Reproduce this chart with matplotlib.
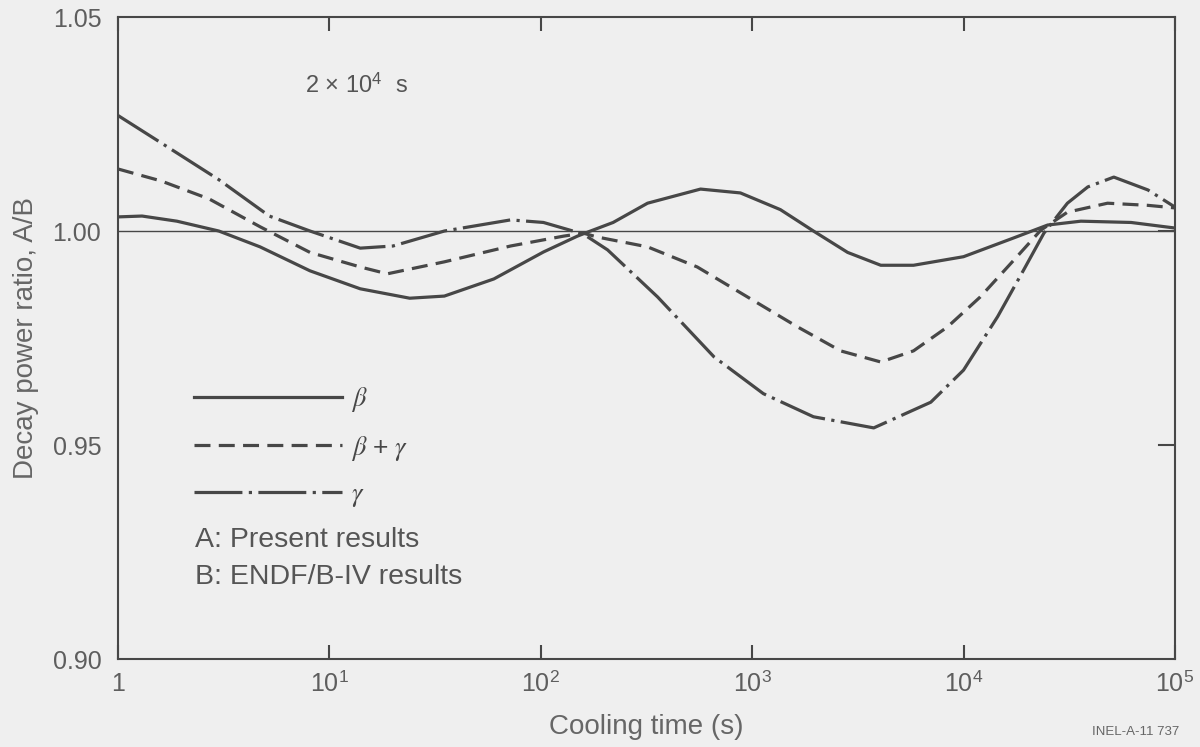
import numpy as np
import matplotlib
matplotlib.use("Agg")
import matplotlib.pyplot as plt

plt.rcParams['font.family'] = ['Liberation Sans', 'DejaVu Sans']
plt.rcParams['mathtext.fontset'] = 'custom'
plt.rcParams['mathtext.rm'] = 'Liberation Sans'
plt.rcParams['mathtext.it'] = 'STIXGeneral:italic'

# curves (cooling time in s, ratio A/B)
beta_t = [1, 1.3, 1.9, 3.0, 4.7, 8.1, 14, 24, 35, 60, 103, 149, 172, 220, 320,
          570, 880, 1360, 1950, 2830, 4060, 5800, 10000, 17300, 25000, 35900,
          62000, 100000]
beta = [1.0033, 1.0035, 1.0023, 1.000, 0.9963, 0.9907, 0.9865, 0.9843, 0.9848,
        0.9888, 0.9951, 0.9988, 1.000, 1.002, 1.0065, 1.0098, 1.0089, 1.005,
        1.000, 0.995, 0.992, 0.992, 0.994, 0.9984, 1.0014, 1.0023, 1.002, 1.0007]

bg_t = [1, 1.6, 2.7, 4.7, 8.1, 14, 18.8, 35, 72, 128, 159, 185, 320, 550, 950,
        1640, 2620, 4060, 5800, 8400, 12000, 17300, 23200, 31000, 48000, 74500,
        100000]
bg = [1.0145, 1.0117, 1.0075, 1.001, 0.995, 0.9916, 0.990, 0.9928, 0.9965,
      0.9988, 0.9995, 0.9986, 0.9963, 0.9916, 0.9846, 0.9776, 0.972, 0.9694,
      0.972, 0.9776, 0.9846, 0.9932, 1.0002, 1.0044, 1.0065, 1.006, 1.0054]

gam_t = [1, 1.6, 3.0, 5.2, 8.1, 14, 20, 35, 72, 103, 159, 207, 357, 660, 1130,
         1950, 3760, 7000, 10000, 14500, 19300, 24000, 31000, 38700, 51400,
         74500, 100000]
gam = [1.027, 1.0206, 1.012, 1.0035, 1.000, 0.996, 0.9965, 1.000, 1.0026, 1.002,
       0.9993, 0.9956, 0.9846, 0.9706, 0.962, 0.9566, 0.954, 0.960, 0.9675,
       0.980, 0.991, 0.9995, 1.0065, 1.0103, 1.0126, 1.0096, 1.0056]

xticks = [1, 10, 100, 1000, 10000, 100000]
xticklabels = ['1', '10$^1$', '10$^2$', '10$^3$', '10$^4$', '10$^5$']
yticks = [0.90, 0.95, 1.00, 1.05]
yticklabels = ['0.90', '0.95', '1.00', '1.05']

ink = '#474747'
txtcol = '#5e5e5e'
bgcol = '#efefef'

fig = plt.figure(figsize=(12, 7.47), dpi=100, facecolor=bgcol)
ax = fig.add_axes([0.0983, 0.1178, 0.8808, 0.8594], facecolor=bgcol)

ax.axhline(1.0, color=ink, lw=1.0)
ax.plot(beta_t, beta, color=ink, lw=2.3, ls='-', label=r'$\beta$')
ax.plot(bg_t, bg, color=ink, lw=2.3, ls=(0, (5, 2.6)), label=r'$\beta\,+\,\gamma$')
ax.plot(gam_t, gam, color=ink, lw=2.3, ls=(0, (15, 2, 1, 2)), label=r'$\gamma$')

ax.set_xscale('log')
ax.set_xlim(1, 1e5)
ax.set_ylim(0.90, 1.05)
ax.set_xticks(xticks)
ax.set_xticklabels(xticklabels)
ax.minorticks_off()
ax.set_yticks(yticks)
ax.set_yticklabels(yticklabels)

ax.tick_params(axis='x', direction='in', length=10, width=1.5, top=True,
               colors=ink, labelsize=18, pad=9)
ax.tick_params(axis='y', direction='in', length=0, width=1.5, right=False,
               colors=ink, labelsize=18, pad=12)
for lab in ax.get_xticklabels() + ax.get_yticklabels():
    lab.set_color(txtcol)
for t in yticks[1:3]:
    ax.plot([0.985, 1.0], [t, t], transform=ax.get_yaxis_transform(),
            color=ink, lw=1.5)
for s in ax.spines.values():
    s.set_color(ink)
    s.set_linewidth(1.5)

ax.set_xlabel('Cooling time (s)', fontsize=20, color='#666666', labelpad=12)
ax.set_ylabel('Decay power ratio, A/B', fontsize=20, color='#666666', labelpad=10)

leg = ax.legend(loc='upper left', bbox_to_anchor=(0.072, 0.427), frameon=False,
                fontsize=19, handlelength=5.6, handletextpad=0.35,
                labelspacing=0.75, borderpad=0, borderaxespad=0)
for txt in leg.get_texts():
    txt.set_color(ink)

ax.text(0.073, 0.206, 'A: Present results\nB: ENDF/B-IV results',
        transform=ax.transAxes, fontsize=20.5, color='#555555',
        va='top', ha='left', linespacing=1.55)
ax.text(0.177, 0.893, '2 × 10$^4$  s', transform=ax.transAxes, fontsize=17,
        color='#555555', ha='left', va='center')
fig.text(0.983, 0.012, 'INEL-A-11 737', fontsize=9.5, color='#666666',
         ha='right', va='bottom')

fig.savefig('out.png', dpi=100, facecolor=bgcol)
